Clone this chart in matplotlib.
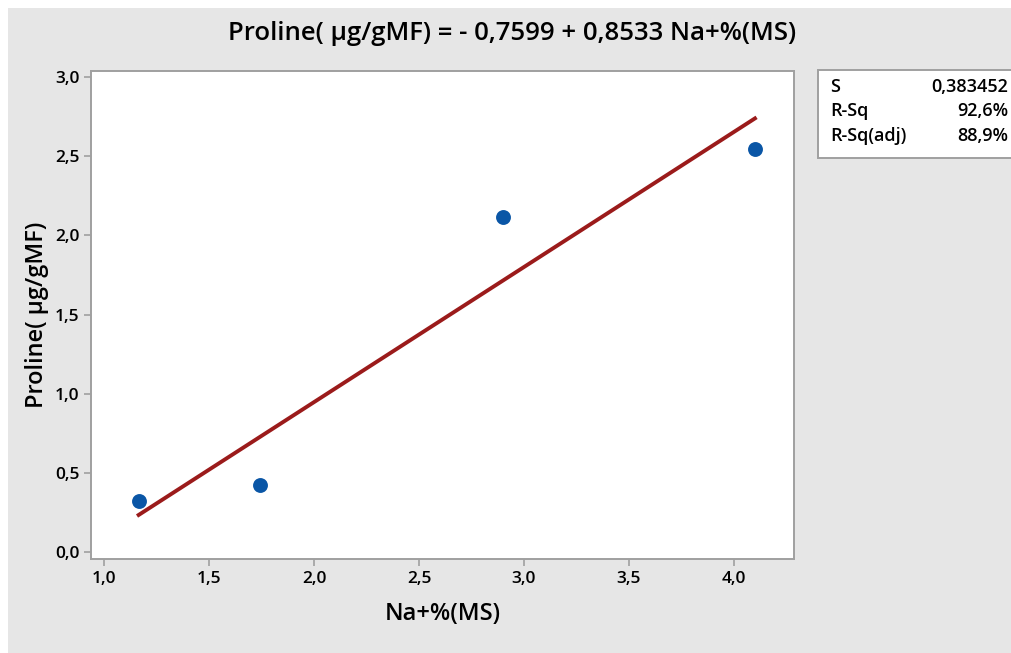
import numpy as np
import matplotlib
matplotlib.use("Agg")
from matplotlib import pyplot as plt
from matplotlib.patches import Rectangle

# measurements
na_ms = [1.165, 1.745, 2.900, 4.100]
proline = [0.325, 0.425, 2.115, 2.545]

# fitted line and summary stats
intercept = -0.7599
slope = 0.8533
stats_rows = [("S", "0,383452"), ("R-Sq", "92,6%"), ("R-Sq(adj)", "88,9%")]

x_ticks = [1.0, 1.5, 2.0, 2.5, 3.0, 3.5, 4.0]
y_ticks = [0.0, 0.5, 1.0, 1.5, 2.0, 2.5, 3.0]

plt.rcParams['font.family'] = ['Open Sans', 'DejaVu Sans']

W, H = 1011, 653
fig = plt.figure(figsize=(W / 100, H / 100), dpi=100)
fig.patch.set_facecolor('white')
bg = '#e6e6e6'
fig.patches.append(Rectangle((8 / W, 0), 1, 1 - 8 / H, transform=fig.transFigure,
                             facecolor=bg, edgecolor='none', zorder=-1))

ax = fig.add_axes([91 / W, 1 - 559 / H, (794 - 91) / W, (559 - 71) / H])
ax.set_zorder(2)
ax.set_facecolor('white')

xs = np.linspace(min(na_ms), max(na_ms), 50)
ax.plot(xs, intercept + slope * xs, color='#9b1b1b', lw=2.8, zorder=2)
ax.scatter(na_ms, proline, s=115, color='#0a56a6', zorder=3, linewidths=0)

ax.set_xlim(0.938, 4.286)
ax.set_ylim(-0.044, 3.038)
ax.set_xticks(x_ticks)
ax.set_yticks(y_ticks)
ax.set_xticklabels([f"{v:.1f}".replace('.', ',') for v in x_ticks], fontweight='semibold')
ax.set_yticklabels([f"{v:.1f}".replace('.', ',') for v in y_ticks], fontweight='semibold')
ax.tick_params(labelsize=12.5, colors='#a0a0a0', labelcolor='black', length=5, width=1.2)
for s in ax.spines.values():
    s.set_color('#a0a0a0')
    s.set_linewidth(1.4)

ax.set_xlabel("Na+%(MS)", fontsize=17, fontweight='semibold', labelpad=11)
ax.set_ylabel("Proline( µg/gMF)", fontsize=17, fontweight='semibold', labelpad=4)
fig.text(512 / W, 1 - 33 / H, "Proline( µg/gMF) = - 0,7599 + 0,8533 Na+%(MS)",
         ha='center', va='center', fontsize=18.5, fontweight='semibold')

# summary box
fig.patches.append(Rectangle((818 / W, 1 - 158 / H), 200 / W, 88 / H, transform=fig.transFigure,
                             facecolor='white', edgecolor='#a0a0a0', lw=1.4, zorder=1))
for i, (name, val) in enumerate(stats_rows):
    yy = 1 - (87 + i * 24.5) / H
    fig.text(830 / W, yy, name, ha='left', va='center', fontsize=13, fontweight='semibold')
    fig.text(1008 / W, yy, val, ha='right', va='center', fontsize=13, fontweight='semibold')

fig.savefig("out.png", dpi=100, facecolor=fig.get_facecolor())
